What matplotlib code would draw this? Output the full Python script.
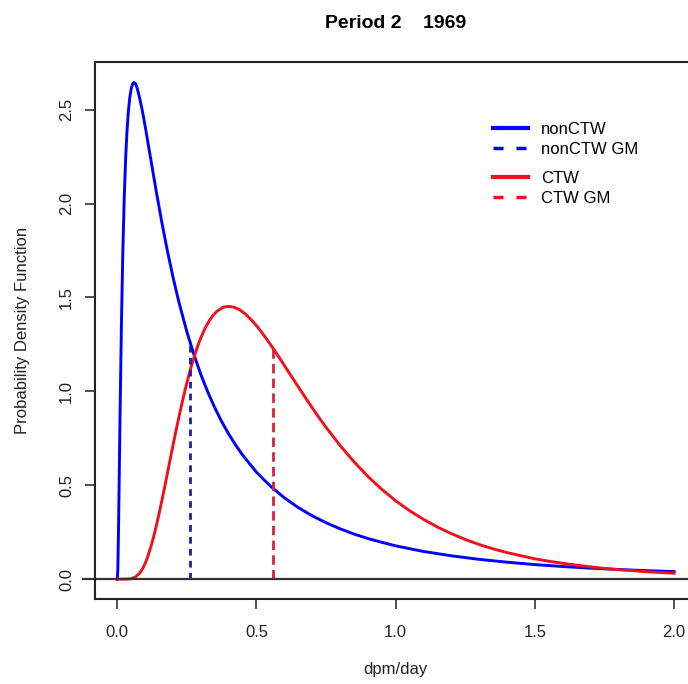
import matplotlib
matplotlib.use("Agg")
import matplotlib.pyplot as plt
from matplotlib.lines import Line2D

plt.rcParams['font.family'] = ['Liberation Sans', 'DejaVu Sans']

# density curves
x_nonctw = [0.0, 0.002, 0.005, 0.0075, 0.01, 0.015, 0.02, 0.025, 0.03, 0.035, 0.04, 0.045,
            0.05, 0.055, 0.06, 0.065, 0.07, 0.075, 0.08, 0.09, 0.10, 0.12, 0.14, 0.16, 0.18,
            0.20, 0.22, 0.25, 0.275, 0.30, 0.325, 0.35, 0.375, 0.40, 0.425, 0.45, 0.50, 0.55,
            0.60, 0.65, 0.70, 0.75, 0.80, 0.85, 0.90, 0.95, 1.0, 1.1, 1.2, 1.3, 1.4, 1.5, 1.6,
            1.7, 1.8, 1.9, 2.0]
y_nonctw = [0.0, 0.051, 0.321, 0.604, 0.883, 1.370, 1.748, 2.032, 2.240, 2.390, 2.494, 2.566,
            2.612, 2.638, 2.645, 2.640, 2.622, 2.595, 2.564, 2.494, 2.413, 2.239, 2.065, 1.900, 1.748,
            1.609, 1.483, 1.317, 1.197, 1.090, 0.997, 0.913, 0.839, 0.773, 0.714, 0.661, 0.569, 0.495,
            0.433, 0.381, 0.337, 0.300, 0.268, 0.240, 0.216, 0.196, 0.177, 0.147, 0.124, 0.105, 0.090,
            0.077, 0.067, 0.058, 0.051, 0.045, 0.040]

x_ctw = [0.0, 0.03, 0.05, 0.065, 0.08, 0.09, 0.10, 0.11, 0.12, 0.13, 0.14, 0.15, 0.16, 0.17,
         0.18, 0.19, 0.20, 0.21, 0.22, 0.235, 0.25, 0.265, 0.28, 0.29, 0.30, 0.315, 0.33, 0.345,
         0.36, 0.38, 0.40, 0.42, 0.44, 0.46, 0.48, 0.50, 0.52, 0.54, 0.56, 0.58, 0.60, 0.625,
         0.65, 0.675, 0.70, 0.725, 0.75, 0.80, 0.85, 0.90, 0.95, 1.0, 1.05, 1.1, 1.15, 1.2,
         1.25, 1.3, 1.35, 1.4, 1.45, 1.5, 1.55, 1.6, 1.65, 1.7, 1.75, 1.8, 1.85, 1.9, 1.95, 2.0]
y_ctw = [0.0, 0.0, 0.002, 0.011, 0.031, 0.053, 0.083, 0.122, 0.169, 0.222, 0.282, 0.348, 0.417, 0.489,
         0.563, 0.638, 0.712, 0.784, 0.854, 0.954, 1.046, 1.130, 1.203, 1.246, 1.285, 1.335, 1.375, 1.407,
         1.429, 1.448, 1.453, 1.448, 1.434, 1.412, 1.383, 1.350, 1.312, 1.271, 1.228, 1.184, 1.138, 1.081,
         1.024, 0.968, 0.913, 0.859, 0.808, 0.712, 0.625, 0.547, 0.478, 0.417, 0.364, 0.318, 0.277, 0.242,
         0.211, 0.184, 0.161, 0.141, 0.124, 0.108, 0.095, 0.084, 0.074, 0.065, 0.057, 0.050, 0.045, 0.039,
         0.035, 0.031]

# geometric means and the density there
nonctw_gm = 0.26
nonctw_gm_pdf = 1.27
ctw_gm = 0.56
ctw_gm_pdf = 1.23

x_ticks = [0.0, 0.5, 1.0, 1.5, 2.0]
y_ticks = [0.0, 0.5, 1.0, 1.5, 2.0, 2.5]

blue = '#0000ff'
red = '#f0101e'
blue_d = '#1c1ca8'
red_d = '#d8203a'

fig = plt.figure(figsize=(6.88, 6.84), dpi=100)
ax = fig.add_axes([0.1381, 0.1243, 0.8741, 0.7855])

ax.plot(x_nonctw, y_nonctw, color=blue, lw=2.1, solid_joinstyle='round')
ax.plot(x_ctw, y_ctw, color=red, lw=2.1, solid_joinstyle='round')
ax.plot([nonctw_gm, nonctw_gm], [0, nonctw_gm_pdf], color=blue_d, lw=2.0, dashes=(2.4, 1.9))
ax.plot([ctw_gm, ctw_gm], [0, ctw_gm_pdf], color=red_d, lw=2.0, dashes=(3.4, 1.9))
ax.axhline(0, xmin=-0.02, xmax=1, color='#333333', lw=1.6, clip_on=False)

ax.set_xlim(-0.08, 2.08)
ax.set_ylim(-0.106, 2.756)
ax.set_xticks(x_ticks)
ax.set_xticklabels(['%.1f' % v for v in x_ticks])
ax.set_yticks(y_ticks)
ax.set_yticklabels(['%.1f' % v for v in y_ticks], rotation=90, va='center')
ax.tick_params(length=7.5, width=1.2, color='#333333', labelsize=12, labelcolor='#222222')
ax.tick_params(axis='x', pad=11)
ax.tick_params(axis='y', pad=7.5)
for s in ax.spines.values():
    s.set_linewidth(1.5)
    s.set_color('#222222')

ax.set_xlabel('dpm/day', fontsize=12, color='#222222')
ax.xaxis.label.set_va('center')
ax.xaxis.set_label_coords(0.5, -0.131)
ax.set_ylabel('Probability Density Function', fontsize=12, color='#222222')
ax.yaxis.label.set_va('center')
ax.yaxis.set_label_coords(-0.12, 0.5)
ax.set_title('Period 2    1969', fontsize=14, fontweight='bold', y=1.055, va='center')

# legend in two groups
h1 = [Line2D([], [], color=blue, lw=3),
      Line2D([], [], color=blue, lw=2.5, dashes=(2.9, 3.7))]
h2 = [Line2D([], [], color=red, lw=3),
      Line2D([], [], color=red, lw=2.5, dashes=(2.9, 3.7))]
kw = dict(frameon=False, fontsize=12, handlelength=2.1, handletextpad=0.8,
          labelspacing=0.3, borderpad=0, borderaxespad=0, loc='upper left',
          bbox_transform=fig.transFigure)
leg1 = ax.legend(h1, ['nonCTW', 'nonCTW GM'], bbox_to_anchor=(493 / 688, 1 - 122 / 684), **kw)
ax.add_artist(leg1)
ax.legend(h2, ['CTW', 'CTW GM'], bbox_to_anchor=(493 / 688, 1 - 171 / 684), **kw)

fig.savefig('out.png', dpi=100)
